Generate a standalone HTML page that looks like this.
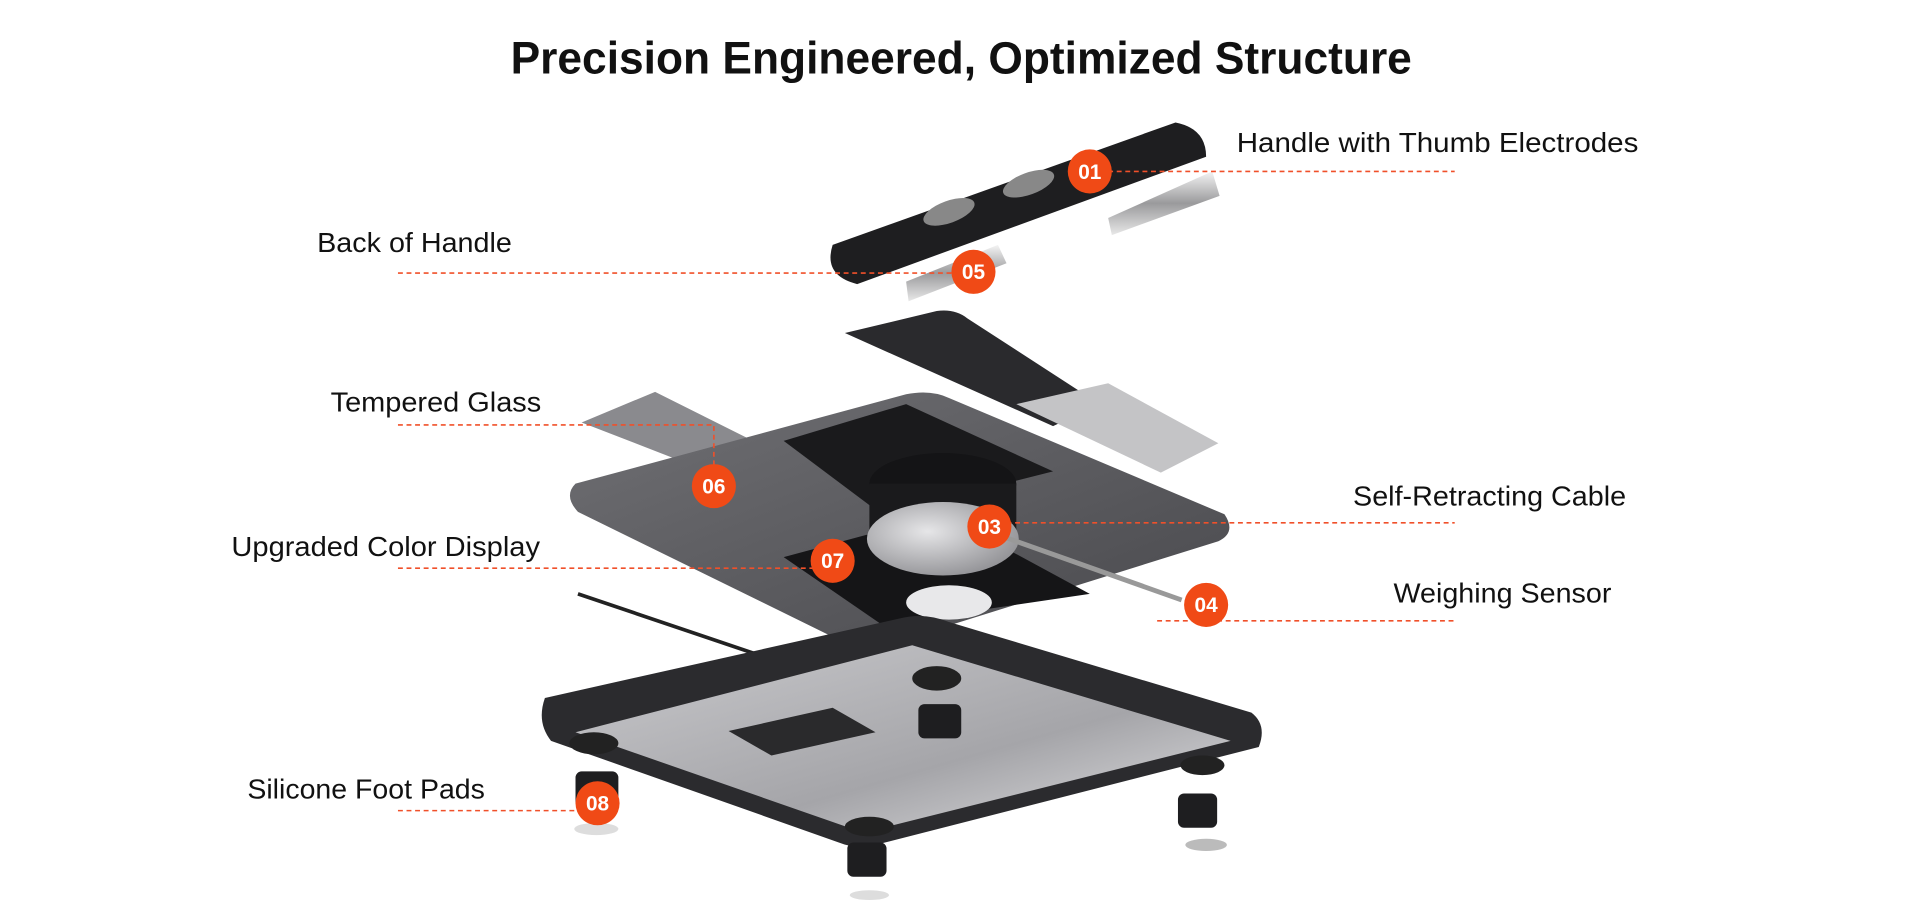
<!DOCTYPE html>
<html><head><meta charset="utf-8"><style>
html,body{margin:0;padding:0;background:#fff;width:1920px;height:900px;overflow:hidden}
svg{display:block}
text{font-family:"Liberation Sans",sans-serif}
</style></head><body>
<svg width="1920" height="900" viewBox="0 0 1568 735" preserveAspectRatio="none" xmlns="http://www.w3.org/2000/svg">
<defs>
<linearGradient id="base" x1="0" y1="0" x2="1" y2="1"><stop offset="0" stop-color="#c9c9cc"/><stop offset="0.6" stop-color="#a5a5a9"/><stop offset="1" stop-color="#e2e2e4"/></linearGradient>
<linearGradient id="tray" x1="0" y1="0" x2="1" y2="1"><stop offset="0" stop-color="#707074"/><stop offset="1" stop-color="#48484c"/></linearGradient>
<linearGradient id="metal" x1="0" y1="0" x2="0" y2="1"><stop offset="0" stop-color="#f4f4f4"/><stop offset="0.5" stop-color="#9a9a9c"/><stop offset="1" stop-color="#e8e8e8"/></linearGradient>
<radialGradient id="disc" cx="0.4" cy="0.4" r="0.7"><stop offset="0" stop-color="#e6e6e8"/><stop offset="1" stop-color="#8c8c90"/></radialGradient>
</defs>
<text x="785" y="60" text-anchor="middle" font-size="37" font-weight="bold" fill="#111" textLength="736" lengthAdjust="spacingAndGlyphs">Precision Engineered, Optimized Structure</text>

<!-- Handle -->
<path d="M680 200 L960 100 Q985 105 985 128 L700 232 Q672 225 680 200Z" fill="#1e1e20"/>
<ellipse cx="775" cy="173" rx="22" ry="9" transform="rotate(-20 775 173)" fill="#888"/>
<ellipse cx="840" cy="150" rx="22" ry="9" transform="rotate(-20 840 150)" fill="#888"/>
<path d="M905 178 L990 140 L996 160 L908 192Z" fill="url(#metal)"/>
<path d="M740 230 L815 200 L822 215 L742 246Z" fill="url(#metal)"/>

<path d="M690 272 L765 254 Q780 252 790 260 L898 330 L860 348 Z" fill="#2a2a2d"/>
<path d="M830 330 L905 313 L995 362 L948 386 Z" fill="#c4c4c6"/>
<path d="M475 345 L535 320 L615 360 L560 378 Z" fill="#8a8a8e"/>
<path d="M470 395 L740 322 Q760 318 775 325 L1000 420 Q1010 435 995 442 L720 528 Q705 532 690 525 L472 418 Q460 405 470 395Z" fill="url(#tray)"/>
<path d="M640 360 L740 330 L860 385 L720 420 Z" fill="#1a1a1c"/>
<path d="M640 455 L770 420 L890 485 L720 510 Z" fill="#151517"/>
<ellipse cx="770" cy="395" rx="60" ry="25" fill="#141416"/>
<rect x="710" y="395" width="120" height="45" fill="#1a1a1c"/>
<ellipse cx="770" cy="440" rx="62" ry="30" fill="url(#disc)"/>
<path d="M810 435 L965 490" stroke="#999" stroke-width="4"/>
<path d="M472 485 L620 535" stroke="#222" stroke-width="3"/>
<ellipse cx="775" cy="492" rx="35" ry="14" fill="#e8e8ea"/>

<path d="M445 570 L735 505 Q755 500 775 508 L1022 582 Q1035 592 1028 610 L715 690 Q700 694 685 688 L450 605 Q438 590 445 570Z" fill="#2b2b2e"/>
<path d="M470 598 L745 527 L1005 605 L705 680 Z" fill="url(#base)"/>
<path d="M595 597 L680 578 L715 598 L630 617Z" fill="#2a2a2c"/>
<ellipse cx="765" cy="554" rx="20" ry="10" fill="#222"/>
<ellipse cx="485" cy="607" rx="20" ry="9" fill="#222"/>
<ellipse cx="982" cy="625" rx="18" ry="8" fill="#222"/>
<ellipse cx="710" cy="675" rx="20" ry="8" fill="#222"/>
<rect x="750" y="575" width="35" height="28" rx="5" fill="#1e1e20"/>
<rect x="470" y="630" width="35" height="30" rx="5" fill="#1e1e20"/>
<rect x="962" y="648" width="32" height="28" rx="5" fill="#1e1e20"/>
<rect x="692" y="688" width="32" height="28" rx="5" fill="#1e1e20"/>
<ellipse cx="487" cy="677" rx="18" ry="5" fill="#ddd"/>
<ellipse cx="985" cy="690" rx="17" ry="5" fill="#bbb"/>
<ellipse cx="710" cy="731" rx="16" ry="4" fill="#ddd"/>

<g stroke="#f0502a" stroke-width="1.3" stroke-dasharray="4 3" fill="none">
<path d="M905 140 H1188"/>
<path d="M325 223 H795"/>
<path d="M325 347 H583 V397"/>
<path d="M808 427 H1188"/>
<path d="M325 464 H680"/>
<path d="M945 507 H1188"/>
<path d="M325 662 H488"/>
</g>
<g fill="#f04a16">
<circle cx="890" cy="140" r="18"/><circle cx="795" cy="222" r="18"/><circle cx="583" cy="397" r="18"/>
<circle cx="808" cy="430" r="18"/><circle cx="680" cy="458" r="18"/><circle cx="985" cy="494" r="18"/><circle cx="488" cy="656" r="18"/>
</g>
<g fill="#fff" font-size="17" font-weight="bold" text-anchor="middle">
<text x="890" y="146">01</text><text x="795" y="228">05</text><text x="583" y="403">06</text>
<text x="808" y="436">03</text><text x="680" y="464">07</text><text x="985" y="500">04</text><text x="488" y="662">08</text>
</g>
<g fill="#111" font-size="23">
<text x="1010" y="124" textLength="328" lengthAdjust="spacingAndGlyphs">Handle with Thumb Electrodes</text>
<text x="259" y="206" textLength="159" lengthAdjust="spacingAndGlyphs">Back of Handle</text>
<text x="270" y="336" textLength="172" lengthAdjust="spacingAndGlyphs">Tempered Glass</text>
<text x="1105" y="413" textLength="223" lengthAdjust="spacingAndGlyphs">Self-Retracting Cable</text>
<text x="189" y="454" textLength="252" lengthAdjust="spacingAndGlyphs">Upgraded Color Display</text>
<text x="1138" y="492" textLength="178" lengthAdjust="spacingAndGlyphs">Weighing Sensor</text>
<text x="202" y="652" textLength="194" lengthAdjust="spacingAndGlyphs">Silicone Foot Pads</text>
</g>
</svg>
</body></html>
